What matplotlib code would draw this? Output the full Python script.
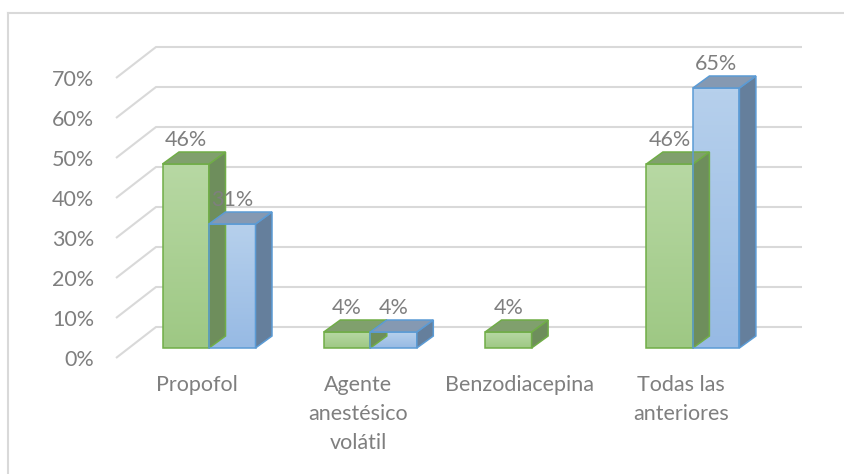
import numpy as np
import matplotlib
matplotlib.use("Agg")
import matplotlib.pyplot as plt
from matplotlib.patches import Polygon
from matplotlib.lines import Line2D

# data
categories = ["Propofol", "Agente\nanestésico\nvolátil", "Benzodiacepina", "Todas las\nanteriores"]
serie_verde = [46, 4, 4, 46]
serie_azul = [31, 4, np.nan, 65]
y_ticks = [0, 10, 20, 30, 40, 50, 60, 70]

plt.rcParams['font.family'] = ['Lato', 'DejaVu Sans']
TXT = '#7f7f7f'
GRID = '#d9d9d9'
FS = 15.5

# pixel layout -> data units (1 category = 161.3 px, 1% = 4 px)
PX_X = 161.3
PX_Y = 4.0
X0, Y0 = 209, 348          # first group centre, bar baseline (pixels)
W, H = 845, 474

fig = plt.figure(figsize=(W / 100, H / 100), dpi=100)
ax = fig.add_axes([0, 0, 1, 1])
ax.set_xlim(-X0 / PX_X, (W - X0) / PX_X)
ax.set_ylim((Y0 - H) / PX_Y, Y0 / PX_Y)
ax.axis('off')

bw = 46.5 / PX_X            # bar width
DX, DY = 16.5 / PX_X, 12 / PX_Y   # bar depth offset
# wall / floor geometry
back_left, back_right = (156 - X0) / PX_X, (802 - X0) / PX_X
front_left = (116 - X0) / PX_X
back_dy, front_dy = 21 / PX_Y, -10 / PX_Y

for t in y_ticks:
    ax.plot([front_left, back_left, back_right], [t + front_dy, t + back_dy, t + back_dy],
            color=GRID, lw=1.5, solid_capstyle='butt', zorder=1)
    ax.text((94 - X0) / PX_X, t + front_dy - 0.4, f"{t}%", ha='right', va='center',
            color=TXT, fontsize=FS)

x = np.arange(len(categories))


def bar3d(xl, v, front_top, front_bot, top_c, side_c, edge):
    if np.isnan(v):
        return
    b = ax.bar(xl, v, width=bw, align='edge', color='none', edgecolor=edge, lw=1.1, zorder=3)[0]
    # gradient on the front face
    grad = np.linspace(0, 1, 64).reshape(-1, 1)
    cmap = matplotlib.colors.LinearSegmentedColormap.from_list('g', [front_bot, front_top])
    im = ax.imshow(grad, extent=[xl, xl + bw, 0, v], origin='lower', cmap=cmap,
                   aspect='auto', zorder=2.5)
    im.set_clip_path(b)
    top = Polygon([[xl, v], [xl + DX, v + DY], [xl + bw + DX, v + DY], [xl + bw, v]],
                  closed=True, facecolor=top_c, edgecolor=edge, lw=1.1, zorder=3)
    side = Polygon([[xl + bw, 0], [xl + bw + DX, DY], [xl + bw + DX, v + DY], [xl + bw, v]],
                   closed=True, facecolor=side_c, edgecolor=edge, lw=1.1, zorder=3)
    ax.add_patch(side)
    ax.add_patch(top)
    ax.text(xl + bw / 2, v + 6, f"{v:.0f}%", ha='center', va='center',
            color=TXT, fontsize=FS, zorder=6)


ax.set_xlim(ax.get_xlim())
ax.set_ylim(ax.get_ylim())
for i in x:
    bar3d(i - bw, serie_verde[i], '#b7d8a3', '#9ec884', '#80a06d', '#6e8e5c', '#70ad47')
    bar3d(i, serie_azul[i], '#b6d0ec', '#97bae4', '#8599b2', '#657f9c', '#5b9bd5')

for i, c in enumerate(categories):
    ax.text(i - 12 / PX_X, -6.8, c, ha='center', va='top', color=TXT,
            fontsize=FS, linespacing=1.55)

# chart border (left and top)
fig.add_artist(Line2D([8 / W, 8 / W], [0, 1 - 13 / H], color=GRID, lw=1.5))
fig.add_artist(Line2D([8 / W, 1], [1 - 13 / H, 1 - 13 / H], color=GRID, lw=1.5))

fig.savefig("out.png", dpi=100)
